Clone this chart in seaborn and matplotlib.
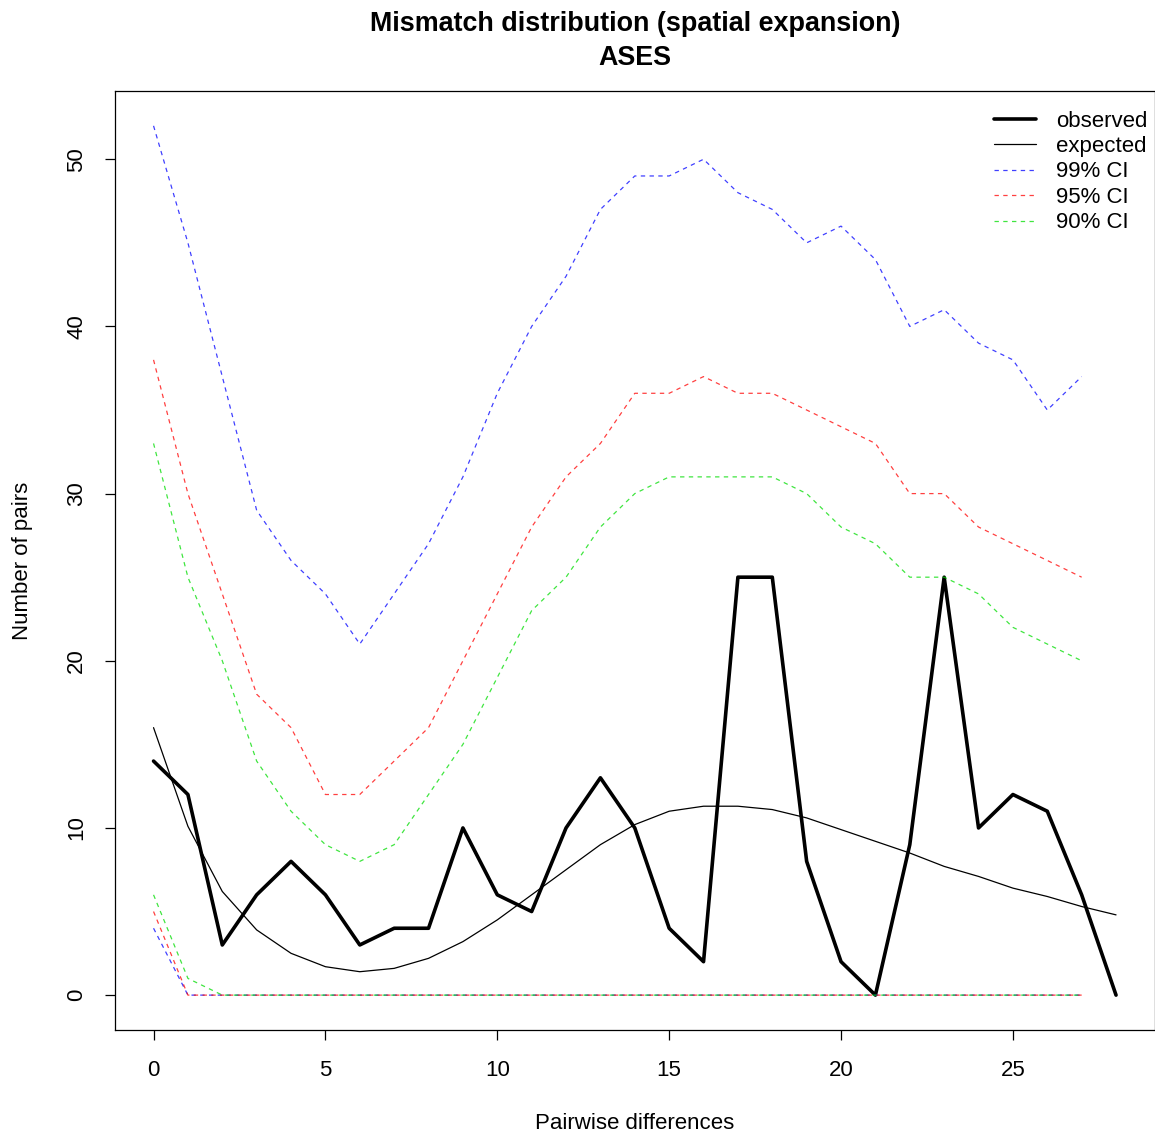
import numpy as np
import pandas as pd
import matplotlib
matplotlib.use("Agg")
import matplotlib.pyplot as plt
import seaborn as sns

sns.set_theme(style="white")
plt.rcParams['font.family'] = ['Liberation Sans', 'DejaVu Sans']
plt.rcParams['text.color'] = 'black'
plt.rcParams['axes.labelcolor'] = 'black'

# data
diffs = list(range(29))
observed = [14, 12, 3, 6, 8, 6, 3, 4, 4, 10, 6, 5, 10, 13, 10, 4, 2, 25, 25,
            8, 2, 0, 9, 25, 10, 12, 11, 6, 0]
expected = [16.0, 10.1, 6.2, 3.9, 2.5, 1.7, 1.4, 1.6, 2.2, 3.2, 4.5, 6.0, 7.5,
            9.0, 10.2, 11.0, 11.3, 11.3, 11.1, 10.6, 9.9, 9.2, 8.5, 7.7, 7.1,
            6.4, 5.9, 5.3, 4.8]

ci_x = list(range(28))
ci99_hi = [52, 45, 37, 29, 26, 24, 21, 24, 27, 31, 36, 40, 43, 47, 49, 49, 50,
           48, 47, 45, 46, 44, 40, 41, 39, 38, 35, 37]
ci95_hi = [38, 30, 24, 18, 16, 12, 12, 14, 16, 20, 24, 28, 31, 33, 36, 36, 37,
           36, 36, 35, 34, 33, 30, 30, 28, 27, 26, 25]
ci90_hi = [33, 25, 20, 14, 11, 9, 8, 9, 12, 15, 19, 23, 25, 28, 30, 31, 31, 31,
           31, 30, 28, 27, 25, 25, 24, 22, 21, 20]
ci99_lo = [4] + [0] * 27
ci95_lo = [5] + [0] * 27
ci90_lo = [6, 1] + [0] * 26

fig = plt.figure(figsize=(11.55, 11.38), dpi=100)
ax = fig.add_axes([0.0996, 0.095, 0.9, 0.825])

dash = (0, (3.5, 3.5))
ci_sets = [
    ('99% CI', 'blue', ci99_hi, ci99_lo),
    ('95% CI', 'red', ci95_hi, ci95_lo),
    ('90% CI', '#00dd00', ci90_hi, ci90_lo),
]

sns.lineplot(x=diffs, y=observed, ax=ax, color='black', lw=2.6, label='observed')
sns.lineplot(x=diffs, y=expected, ax=ax, color='black', lw=0.9, label='expected')
for name, col, hi, lo in ci_sets:
    sns.lineplot(x=ci_x, y=hi, ax=ax, color=col, lw=0.9, alpha=0.75,
                 linestyle=dash, label=name)
    sns.lineplot(x=ci_x, y=lo, ax=ax, color=col, lw=0.9, alpha=0.75,
                 linestyle=dash)

ax.set_xlim(-1.12, 29.12)
ax.set_ylim(-2.08, 54.08)
ax.set_xticks([0, 5, 10, 15, 20, 25])
ax.set_yticks([0, 10, 20, 30, 40, 50])
ax.tick_params(axis='both', direction='out', length=7, width=0.9,
               labelsize=16, colors='black', bottom=True, left=True)
ax.tick_params(axis='x', pad=15)
ax.tick_params(axis='y', pad=13)
for lab in ax.get_yticklabels():
    lab.set_rotation(90)
    lab.set_va('center')
for s in ax.spines.values():
    s.set_color('black')
    s.set_linewidth(0.9)

ax.set_xlabel('Pairwise differences', fontsize=16, labelpad=23)
ax.set_ylabel('Number of pairs', fontsize=16, labelpad=24)
ax.set_title('Mismatch distribution (spatial expansion)\nASES',
             fontsize=19.4, fontweight='bold', pad=19, linespacing=1.4,
             color='black')

leg = ax.legend(loc='upper right', bbox_to_anchor=(1.004, 0.991),
                frameon=False, fontsize=16,
                handlelength=1.9, handletextpad=0.9, labelspacing=0.2,
                borderaxespad=0.3, borderpad=0.2)

plt.savefig('out.png', dpi=100)
